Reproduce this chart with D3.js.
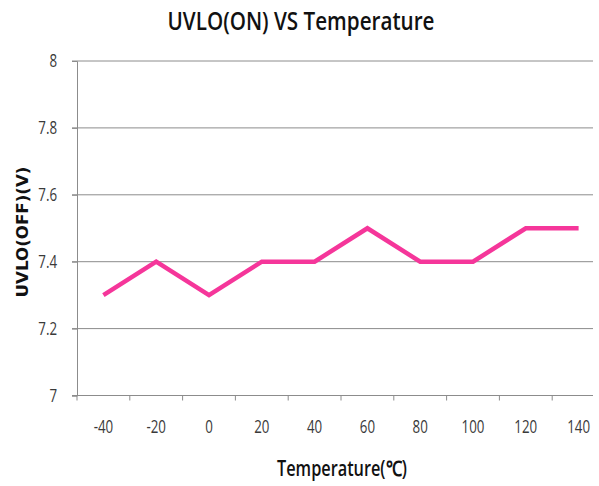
<!DOCTYPE html>
<html>
<head>
<meta charset="utf-8">
<script src="https://cdn.jsdelivr.net/npm/d3@7"></script>
<style>
  body { margin: 0; background: #fff; }
  svg { display: block; }
</style>
</head>
<body>
<div id="chart"></div>
<script>
const temps = [-40, -20, 0, 20, 40, 60, 80, 100, 120, 140];
const uvlo = [7.3, 7.4, 7.3, 7.4, 7.4, 7.5, 7.4, 7.4, 7.5, 7.5];
const yTicks = [7, 7.2, 7.4, 7.6, 7.8, 8];

const W = 599, H = 486;
const LEFT = 77, RIGHT_GRID = 593, TOP = 61, BOTTOM = 395.5;

const svg = d3.select("#chart").append("svg")
    .attr("width", W)
    .attr("height", H);

// squeeze text horizontally, the original uses a narrow font
function condense(sel, f) {
  sel.each(function() {
    const len = this.getComputedTextLength();
    d3.select(this)
      .attr("textLength", len * f)
      .attr("lengthAdjust", "spacingAndGlyphs");
  });
}

const x = d3.scaleBand()
    .domain(temps)
    .range([LEFT, 605])
    .paddingInner(0)
    .paddingOuter(0);

const y = d3.scaleLinear()
    .domain([7, 8])
    .range([BOTTOM, TOP]);

// gridlines
svg.append("g")
  .selectAll("line")
  .data(yTicks.filter(d => d > 7))
  .enter().append("line")
    .attr("x1", LEFT - 5)
    .attr("x2", RIGHT_GRID)
    .attr("y1", d => y(d))
    .attr("y2", d => y(d))
    .attr("stroke", "#8c8c8c")
    .attr("stroke-width", 1);

// y axis
const yAxis = svg.append("g")
    .attr("transform", `translate(${LEFT},0)`)
    .call(d3.axisLeft(y).tickValues(yTicks).tickSize(5).tickPadding(15)
      .tickFormat(d => d3.format("")(d)));
yAxis.select(".domain").attr("stroke", "#8c8c8c");
yAxis.selectAll(".tick line").attr("stroke", "#8c8c8c");
yAxis.selectAll("text")
    .attr("font-family", "'Open Sans', sans-serif")
    .attr("font-size", "18px")
    .attr("fill", "#3a3a3a")
    .call(condense, 0.74);

// x axis
const xAxisG = svg.append("g")
    .attr("transform", `translate(0,${BOTTOM})`);
xAxisG.append("line")
    .attr("x1", LEFT - 5).attr("x2", RIGHT_GRID)
    .attr("y1", 0).attr("y2", 0)
    .attr("stroke", "#8c8c8c");
xAxisG.selectAll(".xtick")
  .data(temps)
  .enter().append("line")
    .attr("x1", d => x(d))
    .attr("x2", d => x(d))
    .attr("y1", 0).attr("y2", 5)
    .attr("stroke", "#8c8c8c");
xAxisG.selectAll(".xlabel")
  .data(temps)
  .enter().append("text")
    .attr("x", d => x(d) + x.bandwidth() / 2)
    .attr("y", 37.5)
    .attr("text-anchor", "middle")
    .attr("font-family", "'Open Sans', sans-serif")
    .attr("font-size", "18px")
    .attr("fill", "#3a3a3a")
    .text(d => d)
    .call(condense, 0.74);

// line
const line = d3.line()
    .x((d, i) => x(temps[i]) + x.bandwidth() / 2)
    .y(d => y(d));

svg.append("path")
    .datum(uvlo)
    .attr("d", line)
    .attr("fill", "none")
    .attr("stroke", "#f5369a")
    .attr("stroke-width", 4.5)
    .attr("stroke-linejoin", "miter");

// title
svg.append("text")
    .attr("x", 301)
    .attr("y", 30)
    .attr("text-anchor", "middle")
    .attr("font-family", "'Open Sans', sans-serif")
    .attr("font-weight", 600)
    .attr("font-size", "25px")
    .attr("fill", "#111")
    .text("UVLO(ON) VS Temperature")
    .attr("textLength", 267)
    .attr("lengthAdjust", "spacingAndGlyphs");

// x label
svg.append("text")
    .attr("x", 342)
    .attr("y", 476)
    .attr("text-anchor", "middle")
    .attr("font-family", "'Open Sans', sans-serif")
    .attr("font-weight", 600)
    .attr("font-size", "21px")
    .attr("fill", "#111")
    .text("Temperature(℃)")
    .attr("textLength", 130)
    .attr("lengthAdjust", "spacingAndGlyphs");

// y label
svg.append("text")
    .attr("transform", "translate(28,232) rotate(-90)")
    .attr("text-anchor", "middle")
    .attr("font-family", "'DejaVu Sans', sans-serif")
    .attr("font-weight", "bold")
    .attr("font-size", "16px")
    .attr("fill", "#111")
    .text("UVLO(OFF)(V)")
    .attr("textLength", 131)
    .attr("lengthAdjust", "spacingAndGlyphs");
</script>
</body>
</html>
